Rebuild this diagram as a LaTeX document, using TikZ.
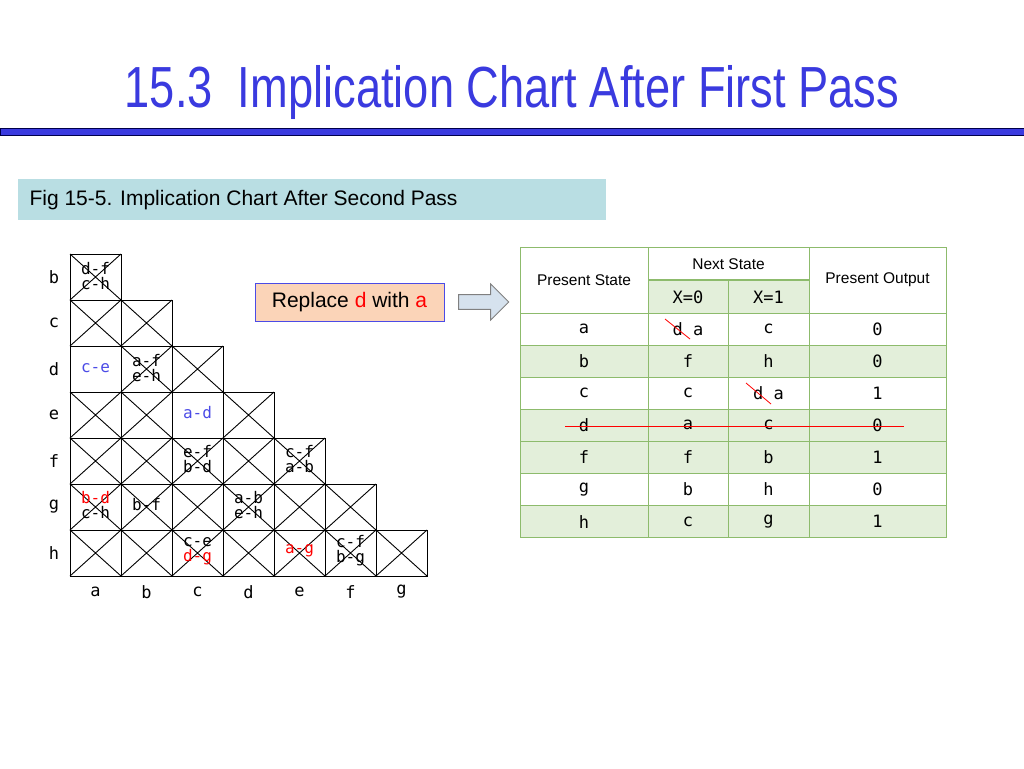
\documentclass[tikz,border=0pt]{standalone}
\usepackage{fontspec}
\setmainfont{Liberation Sans}
\setmonofont{DejaVu Sans Mono}
\usetikzlibrary{shapes.arrows}
\definecolor{titleblue}{HTML}{3A3ADF}
\definecolor{pairblue}{HTML}{4B4BE6}
\definecolor{capfill}{HTML}{B9DEE3}
\definecolor{peach}{HTML}{FBD4B8}
\definecolor{tabgreen}{HTML}{8DBB6C}
\definecolor{rowgreen}{HTML}{E3EFDA}
\definecolor{arrowfill}{HTML}{D6E2EE}
\tikzset{
  cell/.style={draw,line width=0.9pt},
  pair/.style={font=\ttfamily\fontsize{16}{15}\selectfont,align=center,inner sep=0pt},
  lbl/.style={font=\ttfamily\fontsize{17}{17}\selectfont},
  tab/.style={font=\ttfamily\fontsize{17}{17}\selectfont},
  head/.style={font=\fontsize{15.5}{15.5}\selectfont}
}
\begin{document}
\begin{tikzpicture}[x=1pt,y=-1pt]
  \useasboundingbox (0,0) rectangle (1024,768);
  % title and bar
  \node[text=titleblue,font=\fontsize{58}{58}\selectfont,xscale=0.78] (title) at (512,93) {15.3 \ Implication Chart After First Pass};
  \draw[fill=titleblue,draw=black!70!blue] (0,128) rectangle (1024,135);
  \fill[capfill] (18,179) rectangle (606,220);
  \node[anchor=west,font=\fontsize{21}{21}\selectfont] (caption) at (26,200) {Fig 15-5. Implication Chart After Second Pass};
  % implication chart
  \foreach \r [count=\i] in {b,c,d,e,f,g,h}{
    \node[lbl] (row\r) at (54,{254+46*(\i-1)+23}) {\r};
    \foreach \j in {1,...,\i}{
      \draw[cell] ({70+51*(\j-1)},{254+46*(\i-1)}) rectangle ++(51,46);
    }
  }
  \foreach \c [count=\j] in {a,b,c,d,e,f,g}
    \node[lbl] (col\c) at ({70+51*(\j-1)+25.5},592) {\c};
  % crosses, all cells but d-a and e-c
  \foreach \i/\j in {1/1,2/1,2/2,3/2,3/3,4/1,4/2,4/4,5/1,5/2,5/3,5/4,5/5,
                     6/1,6/2,6/3,6/4,6/5,6/6,7/1,7/2,7/3,7/4,7/5,7/6,7/7}{
    \draw[line width=0.9pt] ({70+51*(\j-1)},{254+46*(\i-1)}) -- ++(51,46) ++(-51,0) -- ++(51,-46);
  }
  \node[pair] (ba) at (95.5,276) {d-f\\c-h};
  \node[pair,text=pairblue] (da) at (95.5,368) {c-e};
  \node[pair] (db) at (146.5,368) {a-f\\e-h};
  \node[pair,text=pairblue] (ec) at (197.5,413) {a-d};
  \node[pair] (fc) at (197.5,459) {e-f\\b-d};
  \node[pair] (fe) at (299.5,459) {c-f\\a-b};
  \node[pair] (ga) at (95.5,505) {\textcolor{red}{b-d}\\c-h};
  \node[pair] (gb) at (146.5,505) {b-f};
  \node[pair] (gd) at (248.5,505) {a-b\\e-h};
  \node[pair] (hc) at (197.5,551) {c-e\\\textcolor{red}{d-g}};
  \node[pair,text=red] (he) at (299.5,551) {a-g};
  \node[pair] (hf) at (350.5,551) {c-f\\b-g};
  % replace note and arrow
  \node[draw=pairblue,fill=peach,line width=1pt,minimum width=189pt,minimum height=38pt,font=\fontsize{21}{21}\selectfont] (note) at (349.5,302) {Replace \textcolor{red}{d} with \textcolor{red}{a}};
  \node[single arrow,draw=gray,fill=arrowfill,line width=1pt,minimum width=36pt,single arrow head extend=5pt,minimum height=50pt,inner sep=3pt] (arrow) at (480,302) {};
  % state table
  \fill[rowgreen] (648,280) rectangle (809,313);
  \foreach \k in {1,3,4,6}
    \fill[rowgreen] (520,{313+32.1*\k}) rectangle ++(426,32.1);
  \foreach \x in {520,648,809,946}
    \draw[tabgreen,line width=1pt] (\x,247) -- (\x,538);
  \draw[tabgreen,line width=1pt] (728,280) -- (728,538);
  \draw[tabgreen,line width=1pt] (520,247) -- (946,247);
  \draw[tabgreen,line width=2pt] (648,280) -- (809,280);
  \foreach \k in {0,...,7}
    \draw[tabgreen,line width=1pt] (520,{313+32.1*\k}) -- (946,{313+32.1*\k});
  \node[head] (ps) at (584,280) {Present State};
  \node[head] (ns) at (728.5,264) {Next State};
  \node[head] (po) at (877.5,280) {Present Output};
  \node[tab] (x0) at (688,297) {X=0};
  \node[tab] (x1) at (768.5,297) {X=1};
  \foreach \s/\n/\m/\o [count=\k] in {a/{d a}/c/0,b/f/h/0,c/c/{d a}/1,d/a/c/0,f/f/b/1,g/b/h/0,h/c/g/1}{
    \node[tab] (s\s) at (584,{313+32.1*(\k-1)+16}) {\s};
    \node[tab] (n\s) at (688,{313+32.1*(\k-1)+16}) {\n};
    \node[tab] (m\s) at (768.5,{313+32.1*(\k-1)+16}) {\m};
    \node[tab] (o\s) at (877.5,{313+32.1*(\k-1)+16}) {\o};
  }
  % strike-outs
  \draw[red,line width=0.8pt] (565,426) -- (904,426);
  \draw[red,line width=0.8pt] (665,319) -- (690,339);
  \draw[red,line width=0.8pt] (746,383) -- (771,404);
\end{tikzpicture}
\end{document}
